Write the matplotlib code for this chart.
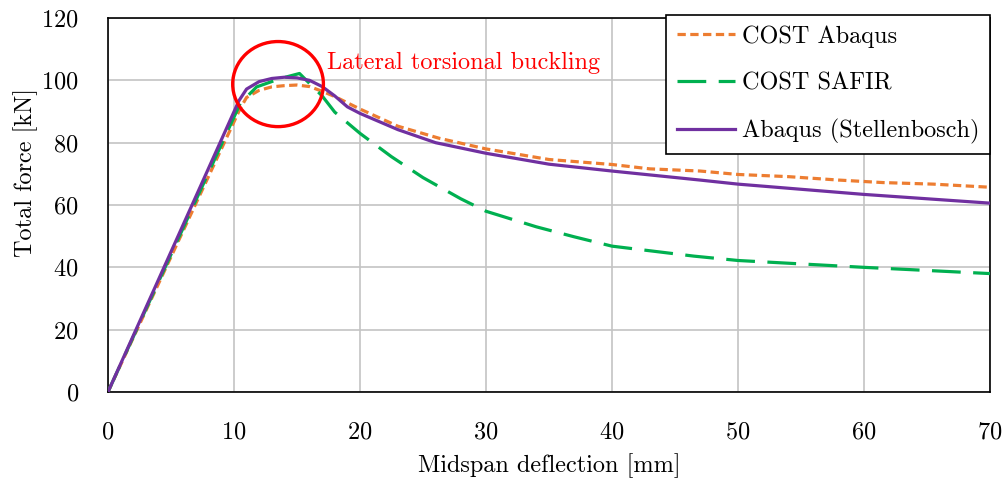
import matplotlib.pyplot as plt
from matplotlib.patches import Ellipse

plt.rcParams['font.family'] = ['cmr10', 'DejaVu Serif']
plt.rcParams['axes.formatter.use_mathtext'] = True
plt.rcParams['mathtext.fontset'] = 'cm'

# COST Abaqus
x_cost_abaqus = [0, 10.5, 11, 12, 13, 14, 15, 16, 17, 18, 20, 23, 26.3, 30, 35, 40,
                 43, 47, 50, 54, 58, 61.5, 65.5, 70]
y_cost_abaqus = [0, 91, 94.5, 96.8, 97.9, 98.3, 98.5, 98.0, 96.5, 94.8, 90.8, 85.3, 81.4,
                 78.0, 74.6, 73.0, 71.6, 70.9, 69.8, 69.1, 68.0, 67.2, 66.7, 65.7]

# COST SAFIR
x_cost_safir = [0, 10.5, 11.8, 13.7, 15.2, 16, 17, 18, 20, 22.5, 25, 28, 30, 34, 37,
                40, 46.5, 50, 60, 70]
y_cost_safir = [0, 92.6, 97.9, 100.6, 102.2, 99.0, 95.0, 89.8, 83.0, 75.5, 68.8, 62.0,
                58.0, 53.0, 49.8, 46.8, 43.6, 42.2, 40.0, 38.0]

# Abaqus (Stellenbosch)
x_stell = [0, 10.4, 11, 12, 13, 14, 15, 16, 17, 18, 19, 20, 23, 26, 30, 35, 40, 47,
           50, 60, 70]
y_stell = [0, 93.5, 97.2, 99.6, 100.6, 101.0, 100.8, 100.0, 98.0, 95.0, 91.5, 89.4,
           84.2, 80.0, 76.6, 73.1, 70.9, 68.0, 66.7, 63.4, 60.6]

x_ticks = [0, 10, 20, 30, 40, 50, 60, 70]
y_ticks = [0, 20, 40, 60, 80, 100, 120]

# buckling marker (circle) and note
circle_center = (13.5, 98.8)
circle_w, circle_h = 7.2, 27.3
note_xy = (17.4, 105.5)

FS = 17.5

fig = plt.figure(figsize=(10.07, 4.88), dpi=100)
ax = fig.add_axes([0.1072, 0.1967, 0.8759, 0.7664])

ax.plot(x_cost_abaqus, y_cost_abaqus, color='#ED7D31', lw=2.3, dashes=(2.6, 1.4),
        label='COST Abaqus', zorder=3)
ax.plot(x_cost_safir, y_cost_safir, color='#00B050', lw=2.3, dashes=(9.0, 3.9),
        label='COST SAFIR', zorder=3)
ax.plot(x_stell, y_stell, color='#7030A0', lw=2.3, label='Abaqus (Stellenbosch)',
        zorder=4)

ax.add_patch(Ellipse(circle_center, circle_w, circle_h, fill=False, ec='#FF0000',
                     lw=2.4, zorder=5))
ax.text(note_xy[0], note_xy[1], 'Lateral torsional buckling', color='#FF0000',
        fontsize=FS, va='center', ha='left')

ax.set_xlim(0, 70)
ax.set_ylim(0, 120)
ax.set_xticks(x_ticks)
ax.set_yticks(y_ticks)
ax.grid(True, color='#C4C4C4', lw=1.2)
ax.set_axisbelow(True)
for s in ax.spines.values():
    s.set_linewidth(1.2)
    s.set_color('black')
ax.tick_params(length=0, labelsize=FS)
ax.tick_params(axis='x', pad=21)
ax.tick_params(axis='y', pad=21)

ax.set_xlabel('Midspan deflection [mm]', fontsize=FS, va='center')
ax.xaxis.set_label_coords(0.5, -0.198)
ax.set_ylabel('Total force [kN]', fontsize=FS, va='center')
ax.yaxis.set_label_coords(-0.093, 0.586)

leg = ax.legend(loc='upper right', bbox_to_anchor=(1.0, 1.008), fontsize=FS,
                frameon=True, fancybox=False, edgecolor='black', framealpha=1,
                handlelength=2.4, handletextpad=0.3, labelspacing=1.0,
                borderpad=0.42, borderaxespad=0)
leg.get_frame().set_linewidth(1.2)
leg.set_zorder(10)

fig.savefig('out.png', dpi=100)
